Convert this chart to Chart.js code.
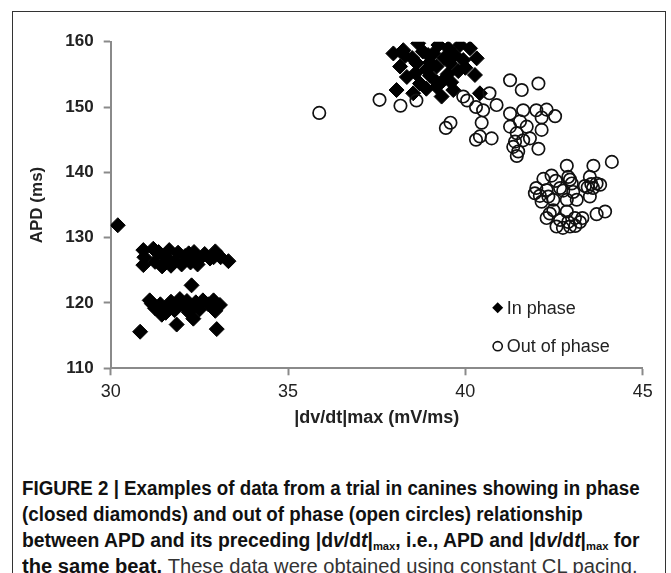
<!DOCTYPE html>
<html lang="en">
<head>
<meta charset="UTF-8">
<title>APD vs |dv/dt|max</title>
<script src="https://cdn.jsdelivr.net/npm/chart.js"></script>
<style>
    html, body {
        margin: 0;
        padding: 0;
        width: 671px;
        height: 573px;
        overflow: hidden;
        background: #fff;
    }
    #frame {
        position: absolute;
        left: 12px;
        top: 11px;
        width: 654px;
        height: 640px;
        border: 1.6px solid #333;
        box-sizing: border-box;
        z-index: 2;
        pointer-events: none;
    }
    #chartBox {
        position: absolute;
        left: 0;
        top: 0;
        width: 671px;
        height: 440px;
    }
    #caption {
        position: absolute;
        left: 22px;
        top: 475px;
        font-family: "Liberation Sans Narrow", "Liberation Sans", Arial, sans-serif;
        font-size: 19.5px;
        line-height: 26px;
        color: #111;
        font-weight: bold;
    }
    .line {
        display: block;
        width: max-content;
        white-space: nowrap;
        transform-origin: 0 50%;
    }
    .light { font-weight: normal; color: #333; }
    sub { font-size: 58%; vertical-align: -0.25em; font-weight: bold; line-height: 0; }
</style>
</head>
<body>
<div id="chartBox"><canvas id="scatter" width="671" height="440"></canvas></div>
<div id="caption">
    <span class="line" data-w="618">FIGURE 2 | Examples of data from a trial in canines showing in phase</span>
    <span class="line" data-w="561">(closed diamonds) and out of phase (open circles) relationship</span>
    <span class="line" data-w="618">between APD and its preceding |d<i>v</i>/d<i>t</i>|<sub>max</sub>, i.e., APD and |d<i>v</i>/d<i>t</i>|<sub>max</sub> for</span>
    <span class="line" data-w="615">the same beat. <span class="light">These data were obtained using constant CL pacing.</span></span>
</div>
<div id="frame"></div>

<script>
    // ---- data ----
    const seriesNames = ['In phase', 'Out of phase'];

    const inPhaseX = [
        30.2, 30.83, 31.86, 32.33, 32.99, 32.28,
        30.92, 31.2, 30.95, 30.92, 31.25, 31.45, 31.55, 31.65, 31.8, 31.9, 32.0, 32.1, 32.25,
        32.35, 32.5, 32.65, 32.8, 32.95, 33.1, 33.32, 31.7, 32.2, 31.35, 32.9, 32.45,
        31.16, 31.1, 31.25, 31.4, 31.44, 31.6, 31.7, 31.85, 31.95, 32.05, 32.15, 32.3, 32.4,
        32.5, 32.6, 32.75, 32.9, 33.08, 32.95, 31.55, 32.2, 31.8,
        37.97, 38.25, 38.67, 38.95, 39.24, 39.52, 39.85, 40.13, 40.32, 40.27, 38.06, 38.16,
        38.35, 38.63, 38.72, 38.91, 39.19, 39.38, 39.33, 39.66, 39.57, 39.94, 39.19, 38.53,
        40.41, 38.5, 38.8, 39.0, 39.1, 39.4, 39.7, 39.8, 39.0, 38.6, 39.5, 39.2, 38.9, 39.6,
        40.0, 38.3
    ];
    const inPhaseY = [
        131.9, 115.6, 116.7, 117.6, 116.0, 122.7,
        128.1, 128.3, 127.0, 125.8, 126.3, 125.6, 127.0, 128.1, 126.4, 127.7, 125.9, 127.2, 126.2,
        127.8, 126.7, 127.5, 126.8, 127.9, 127.0, 126.4, 125.7, 127.6, 127.8, 127.0, 125.9,
        119.9, 120.4, 119.2, 119.8, 118.2, 119.1, 120.2, 119.5, 120.6, 119.7, 120.3, 119.4, 120.1,
        119.0, 120.4, 119.8, 120.4, 119.7, 118.8, 118.5, 118.6, 118.9,
        158.2, 158.7, 159.75, 157.96, 159.5, 158.99, 159.5, 158.99, 157.45, 154.9, 152.6, 156.2,
        154.6, 156.7, 153.6, 155.7, 156.2, 154.1, 151.6, 152.6, 156.7, 157.2, 153.1, 152.1,
        152.1, 157.5, 158.5, 156.8, 158.2, 157.5, 158.0, 155.5, 154.8, 155.2, 155.0, 153.8, 152.8, 153.8,
        156.0, 157.8
    ];

    const outPhaseX = [
        35.88, 37.58, 38.17, 38.62, 39.45, 39.58, 39.94, 40.3, 40.68, 40.88, 40.46, 40.41, 40.3,
        40.74, 41.26, 41.26, 41.59, 42.06, 41.63, 42.0, 42.29, 42.53, 42.15, 41.26, 41.54, 41.73,
        41.45, 41.63, 41.82, 42.15, 41.35, 41.49, 41.45, 42.06, 41.4, 40.5, 40.05,
        42.86, 43.61, 44.13, 42.43, 42.95, 42.9, 43.51, 43.7, 43.37, 43.8, 43.6, 41.96, 42.1,
        42.34, 42.29, 42.67, 42.76, 43.04, 43.14, 43.51, 42.15, 42.48, 42.86, 42.48, 42.86, 42.38,
        42.29, 42.57, 42.75, 42.95, 43.1, 43.23, 43.7, 43.94, 42.67, 43.09, 42.9, 43.45, 43.55,
        43.0, 42.55, 42.2, 43.3, 42.0
    ];
    const outPhaseY = [
        149.1, 151.1, 150.2, 151.0, 146.8, 147.6, 151.6, 150.0, 152.1, 150.3, 147.6, 145.5, 145.0,
        145.2, 149.0, 154.1, 152.6, 153.6, 149.5, 149.5, 149.6, 148.6, 148.4, 147.0, 147.8, 147.0,
        146.0, 144.9, 145.2, 146.5, 143.9, 143.2, 142.5, 143.6, 144.7, 149.5, 151.0,
        141.0, 141.0, 141.6, 139.5, 138.9, 139.3, 139.3, 138.3, 137.9, 138.1, 137.6, 136.8, 136.4,
        136.3, 137.3, 137.6, 137.2, 137.0, 135.8, 136.3, 135.5, 135.8, 135.8, 134.2, 134.0, 133.7,
        133.0, 131.7, 131.5, 131.7, 131.8, 132.4, 133.6, 134.0, 132.7, 133.0, 132.4, 137.7, 138.2,
        138.3, 138.7, 139.0, 133.0, 137.6
    ];

    const xTicks = [30, 35, 40, 45];
    const yTicks = [110, 120, 130, 140, 150, 160];

    function toPoints(xs, ys) {
        return xs.map((x, i) => ({ x: x, y: ys[i] }));
    }

    // legend drawn inside the plot area, like the original
    const insideLegend = {
        id: 'insideLegend',
        afterDraw(chart) {
            const ctx = chart.ctx;
            const area = chart.chartArea;
            const mx = area.left + 387;
            const rows = [area.top + 266, area.top + 304.5];
            ctx.save();
            // diamond
            ctx.fillStyle = '#000';
            ctx.beginPath();
            ctx.moveTo(mx, rows[0] - 5.5);
            ctx.lineTo(mx + 5.5, rows[0]);
            ctx.lineTo(mx, rows[0] + 5.5);
            ctx.lineTo(mx - 5.5, rows[0]);
            ctx.closePath();
            ctx.fill();
            // circle
            ctx.strokeStyle = '#111';
            ctx.lineWidth = 1.6;
            ctx.beginPath();
            ctx.arc(mx, rows[1], 4.6, 0, Math.PI * 2);
            ctx.stroke();
            ctx.fillStyle = '#222';
            ctx.font = '18px "Liberation Sans", Arial, sans-serif';
            ctx.textBaseline = 'middle';
            ctx.textAlign = 'left';
            ctx.fillText(seriesNames[0], mx + 9, rows[0] + 1);
            ctx.fillText(seriesNames[1], mx + 9, rows[1] + 1);
            ctx.restore();
        }
    };

    const axisGrey = '#8a8a8a';

    new Chart(document.getElementById('scatter').getContext('2d'), {
        type: 'scatter',
        data: {
            datasets: [
                {
                    label: seriesNames[0],
                    data: toPoints(inPhaseX, inPhaseY),
                    pointStyle: 'rectRot',
                    pointRadius: 7.5,
                    backgroundColor: '#000',
                    borderColor: '#000',
                    borderWidth: 1,
                    order: 1
                },
                {
                    label: seriesNames[1],
                    data: toPoints(outPhaseX, outPhaseY),
                    pointStyle: 'circle',
                    pointRadius: 6.2,
                    backgroundColor: 'rgba(0,0,0,0)',
                    borderColor: '#111',
                    borderWidth: 1.7,
                    order: 0
                }
            ]
        },
        options: {
            responsive: false,
            animation: false,
            devicePixelRatio: 1,
            layout: {
                padding: { left: 0, top: 41.7, right: 28.3, bottom: 0 }
            },
            plugins: {
                legend: { display: false },
                tooltip: { enabled: false }
            },
            scales: {
                x: {
                    type: 'linear',
                    min: xTicks[0],
                    max: xTicks[xTicks.length - 1],
                    afterBuildTicks: (scale) => { scale.ticks = xTicks.map(v => ({ value: v })); },
                    afterFit: (scale) => { scale.height = 71.7; },
                    border: { color: axisGrey, width: 2 },
                    grid: { drawOnChartArea: false, drawTicks: true, tickLength: 7, tickColor: axisGrey, tickWidth: 2 },
                    ticks: {
                        color: '#222',
                        padding: 6,
                        font: { family: '"Liberation Sans", Arial, sans-serif', size: 18 }
                    },
                    title: {
                        display: true,
                        text: '|dv/dt|max (mV/ms)',
                        color: '#222',
                        padding: { top: 0, bottom: 11 },
                        font: { family: '"Liberation Sans", Arial, sans-serif', size: 18, weight: 'bold' }
                    }
                },
                y: {
                    type: 'linear',
                    min: yTicks[0],
                    max: yTicks[yTicks.length - 1],
                    afterBuildTicks: (scale) => { scale.ticks = yTicks.map(v => ({ value: v })); },
                    afterFit: (scale) => { scale.width = 110.7; },
                    border: { color: axisGrey, width: 2 },
                    grid: { drawOnChartArea: false, drawTicks: true, tickLength: 7, tickColor: axisGrey, tickWidth: 2 },
                    ticks: {
                        color: '#222',
                        padding: 10,
                        font: { family: '"Liberation Sans", Arial, sans-serif', size: 17, weight: 'bold' }
                    },
                    title: {
                        display: true,
                        text: 'APD (ms)',
                        color: '#222',
                        padding: { top: 27, bottom: 0 },
                        font: { family: '"Liberation Sans", Arial, sans-serif', size: 17, weight: 'bold' }
                    }
                }
            }
        },
        plugins: [insideLegend]
    });

    // squeeze caption lines to the widths of the printed caption
    document.querySelectorAll('#caption .line').forEach(el => {
        const target = parseFloat(el.dataset.w);
        el.style.transform = 'scaleX(' + (target / el.offsetWidth) + ')';
    });
</script>
</body>
</html>
